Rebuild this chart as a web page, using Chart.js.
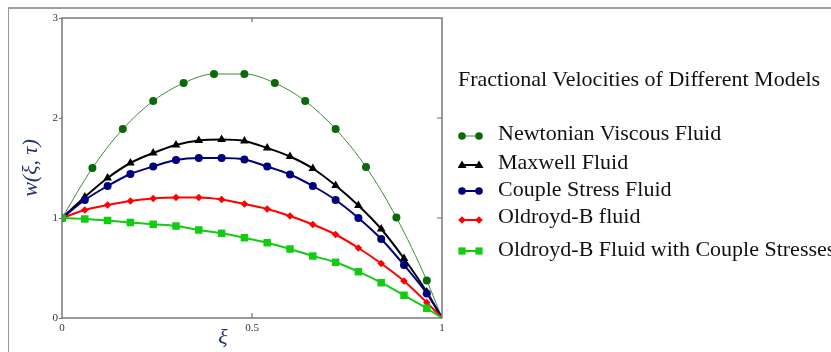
<!DOCTYPE html>
<html><head><meta charset="utf-8">
<script src="https://cdn.jsdelivr.net/npm/chart.js@4.4.1/dist/chart.umd.min.js"></script>
<style>
html,body{margin:0;padding:0;background:#fff;}
#wrap{position:relative;width:831px;height:352px;overflow:hidden;font-family:"Liberation Serif","Times New Roman",serif;}
#frame{position:absolute;left:8px;top:7px;width:900px;height:343px;border-left:1px solid #9a9a9a;border-top:2px solid #a0a0a0;border-bottom:1px solid #e4e4e4;}
#c{position:absolute;left:0;top:0;}
.t{position:absolute;white-space:nowrap;font-size:22px;line-height:22px;color:#111;}
.ic{position:absolute;}
#xtitle{position:absolute;left:203px;width:40px;text-align:center;top:326px;font-style:italic;font-size:22px;line-height:22px;color:#22356b;}
</style></head><body>
<div id="wrap">
<div id="frame"></div>
<canvas id="c" width="831" height="352"></canvas>
<div id="xtitle">ξ</div>
<div id="legend"></div>
</div>
<script>
// ---- data ----
const xNewtonian = [0, 0.08, 0.16, 0.24, 0.32, 0.40, 0.48, 0.56, 0.64, 0.72, 0.80, 0.88, 0.96, 1];
const wNewtonian = [1, 1.50, 1.89, 2.17, 2.35, 2.44, 2.44, 2.35, 2.17, 1.89, 1.51, 1.005, 0.375, 0];
const xModels = [0, 0.06, 0.12, 0.18, 0.24, 0.30, 0.36, 0.42, 0.48, 0.54, 0.60, 0.66, 0.72, 0.78, 0.84, 0.90, 0.96, 1];
const wMaxwell = [1, 1.21, 1.40, 1.55, 1.65, 1.73, 1.775, 1.785, 1.77, 1.70, 1.615, 1.495, 1.325, 1.125, 0.89, 0.595, 0.26, 0];
const wCoupleStress = [1, 1.18, 1.32, 1.44, 1.515, 1.58, 1.60, 1.60, 1.585, 1.515, 1.435, 1.32, 1.18, 1.00, 0.79, 0.53, 0.245, 0];
const wOldroydB = [1, 1.08, 1.13, 1.17, 1.195, 1.205, 1.205, 1.185, 1.14, 1.09, 1.02, 0.935, 0.835, 0.70, 0.545, 0.37, 0.155, 0];
const wOldroydBCouple = [1, 0.99, 0.975, 0.955, 0.937, 0.92, 0.88, 0.847, 0.803, 0.753, 0.69, 0.62, 0.557, 0.463, 0.353, 0.227, 0.097, 0];
const xTickValues = [0, 0.5, 1];
const xTickLabels = ["0", "0.5", "1"];
const yTickValues = [0, 1, 2, 3];
const yTickLabels = ["0", "1", "2", "3"];
const legendTitle = "Fractional Velocities of Different Models";
const seriesLabels = ["Newtonian Viscous Fluid", "Maxwell Fluid", "Couple Stress Fluid", "Oldroyd-B fluid", "Oldroyd-B Fluid with Couple Stresses"];

// ---- styles (separate from data) ----
const styles = [
  {xs:xNewtonian, ys:wNewtonian, marker:'#0b690b', line:'#3c8c3c', lw:1, shape:'circle', r:4, order:5},
  {xs:xModels, ys:wMaxwell, marker:'#000000', line:'#000000', lw:2, shape:'triangle', r:5, order:4},
  {xs:xModels, ys:wCoupleStress, marker:'#00007f', line:'#00007f', lw:2, shape:'circle', r:4, order:3},
  {xs:xModels, ys:wOldroydB, marker:'#ff0000', line:'#ff0000', lw:2, shape:'rectRot', r:3.8, order:2},
  {xs:xModels, ys:wOldroydBCouple, marker:'#11cc11', line:'#11cc11', lw:2, shape:'rect', r:5.3, order:1}
];
const legendIconY = [134, 163, 189, 218, 249];
const legendBaseline = [140.7, 169, 196.5, 223, 256.5];

const datasets = styles.map((s, i) => ({
  label: seriesLabels[i],
  data: s.xs.map((x, k) => ({x: x, y: s.ys[k]})),
  borderColor: s.line,
  borderWidth: s.lw,
  backgroundColor: s.marker,
  pointBackgroundColor: s.marker,
  pointBorderColor: s.marker,
  pointBorderWidth: 0,
  pointStyle: s.shape,
  pointRadius: ctx => (ctx.raw && ctx.raw.x >= 1) ? 0 : s.r,
  pointHoverRadius: s.r,
  cubicInterpolationMode: 'monotone',
  fill: false,
  clip: 0,
  order: s.order
}));

const framePlugin = {
  id: 'frameBox',
  afterDatasetsDraw(chart) {
    const {ctx, chartArea: a, scales} = chart;
    ctx.save();
    ctx.strokeStyle = '#6f6f6f';
    ctx.lineWidth = 1.4;
    ctx.strokeRect(a.left, a.top, a.right - a.left, a.bottom - a.top);
    ctx.lineWidth = 1.2;
    ctx.beginPath();
    xTickValues.filter(v => v > 0 && v < 1).forEach(v => {
      const px = scales.x.getPixelForValue(v);
      ctx.moveTo(px, a.top); ctx.lineTo(px, a.top + 4);
      ctx.moveTo(px, a.bottom); ctx.lineTo(px, a.bottom - 5);
    });
    yTickValues.filter(v => v > 0 && v < 3).forEach(v => {
      const py = scales.y.getPixelForValue(v);
      ctx.moveTo(a.right, py); ctx.lineTo(a.right - 5, py);
    });
    ctx.stroke();
    ctx.restore();
  }
};

const tickFont = {family: '"Liberation Serif", "Times New Roman", serif', size: 11};

new Chart(document.getElementById('c'), {
  type: 'line',
  data: {datasets},
  options: {
    responsive: false,
    animation: false,
    events: [],
    layout: {padding: {left: 0, top: 18, right: 389, bottom: 0}},
    plugins: {legend: {display: false}, tooltip: {enabled: false}, title: {display: false}},
    scales: {
      x: {
        type: 'linear', min: 0, max: 1,
        afterBuildTicks: sc => { sc.ticks = xTickValues.map(v => ({value: v})); },
        afterFit: sc => { sc.height = 34; },
        grid: {display: true, drawOnChartArea: false, drawTicks: false},
        border: {display: false},
        ticks: {font: tickFont, color: '#333', padding: 4, maxRotation: 0, autoSkip: false,
          callback: (v) => xTickLabels[xTickValues.indexOf(v)] ?? String(v)},
        title: {display: false}
      },
      y: {
        type: 'linear', min: 0, max: 3,
        afterBuildTicks: sc => { sc.ticks = yTickValues.map(v => ({value: v})); },
        afterFit: sc => { sc.width = 62; },
        grid: {display: true, drawOnChartArea: false, drawTicks: true, tickLength: 3, color: '#6f6f6f'},
        border: {display: false},
        ticks: {font: tickFont, color: '#333', padding: 1, autoSkip: false,
          callback: (v) => yTickLabels[yTickValues.indexOf(v)] ?? String(v)},
        title: {display: true, text: 'w(ξ, τ)', color: '#22356b', padding: {top: 18, bottom: 0},
          font: {family: '"Liberation Serif", "Times New Roman", serif', size: 22, style: 'italic'}}
      }
    }
  },
  plugins: [framePlugin]
});

// ---- legend (HTML, real text) ----
function iconSVG(s) {
  const w = 30, h = 12, cy = 6, xa = 4, xb = 21;
  const mk = cx => {
    if (s.shape === 'circle') return `<circle cx="${cx}" cy="${cy}" r="3.8" fill="${s.marker}"/>`;
    if (s.shape === 'triangle') return `<polygon points="${cx},${cy-4.5} ${cx+4.5},${cy+3} ${cx-4.5},${cy+3}" fill="${s.marker}"/>`;
    if (s.shape === 'rectRot') return `<polygon points="${cx},${cy-3.8} ${cx+3.8},${cy} ${cx},${cy+3.8} ${cx-3.8},${cy}" fill="${s.marker}"/>`;
    return `<rect x="${cx-3.6}" y="${cy-3.6}" width="7.2" height="7.2" fill="${s.marker}"/>`;
  };
  return `<svg width="${w}" height="${h}" xmlns="http://www.w3.org/2000/svg"><line x1="${xa}" y1="${cy}" x2="${xb}" y2="${cy}" stroke="${s.line}" stroke-width="${s.lw}"/>${mk(xa)}${mk(xb)}</svg>`;
}
const leg = document.getElementById('legend');
let html = `<div class="t" style="left:458px;top:${86.7-18.4}px">${legendTitle}</div>`;
styles.forEach((s, i) => {
  html += `<div class="ic" style="left:458px;top:${legendIconY[i]-6}px">${iconSVG(s)}</div>`;
  html += `<div class="t" style="left:498px;top:${legendBaseline[i]-18.4}px">${seriesLabels[i]}</div>`;
});
leg.innerHTML = html;
</script>
</body></html>
